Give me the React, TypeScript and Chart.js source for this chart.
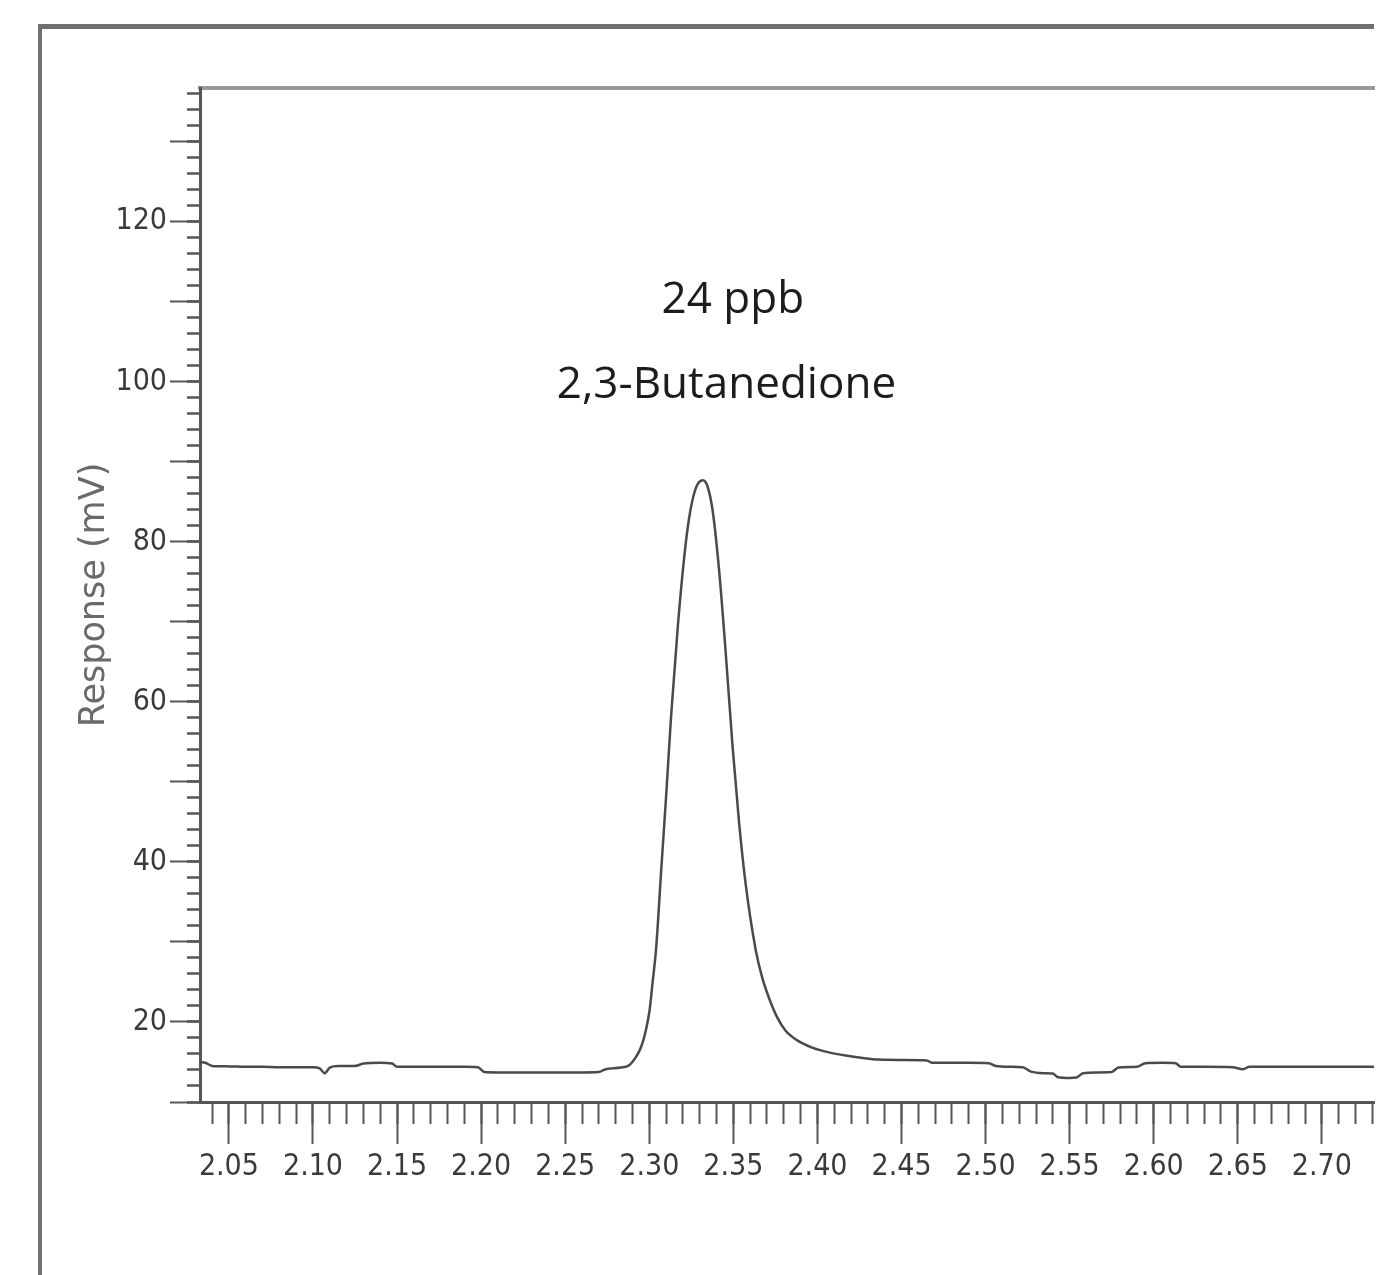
import React, { useEffect, useRef } from "react";
import { Chart, registerables } from "chart.js";

Chart.register(...registerables);

// ---- data ----
const retentionTime: number[] = [
  2.0328, 2.036, 2.04, 2.05, 2.06, 2.07, 2.08, 2.09, 2.1, 2.104, 2.107, 2.11, 2.115, 2.125, 2.13, 2.14,
  2.147, 2.15, 2.16, 2.17, 2.18, 2.19, 2.198, 2.202, 2.21, 2.22, 2.23, 2.24, 2.25, 2.26, 2.27, 2.274,
  2.283, 2.288, 2.292, 2.2952, 2.298, 2.3002, 2.302, 2.3041, 2.3071, 2.3101, 2.313, 2.317, 2.32, 2.323,
  2.326, 2.329, 2.3319, 2.3345, 2.3376, 2.3415, 2.3455, 2.3495, 2.3534, 2.3574, 2.3633, 2.3672, 2.3712,
  2.376, 2.3811, 2.388, 2.3969, 2.4068, 2.4168, 2.427, 2.4366, 2.45, 2.465, 2.468, 2.48, 2.49, 2.502,
  2.506, 2.515, 2.522, 2.527, 2.535, 2.54, 2.543, 2.55, 2.554, 2.558, 2.566, 2.575, 2.579, 2.59, 2.595,
  2.605, 2.613, 2.616, 2.63, 2.647, 2.653, 2.657, 2.67, 2.69, 2.71, 2.731,
];
const responseMv: number[] = [
  15.0, 14.9, 14.5, 14.45, 14.4, 14.4, 14.35, 14.35, 14.35, 14.2, 13.6, 14.3, 14.5, 14.5, 14.8, 14.9,
  14.8, 14.4, 14.4, 14.4, 14.4, 14.4, 14.35, 13.75, 13.7, 13.7, 13.7, 13.7, 13.7, 13.7, 13.75, 14.1,
  14.3, 14.6, 15.6, 16.9, 19.0, 21.5, 25.0, 29.3, 39.0, 48.5, 58.3, 69.5, 76.5, 82.0,
  85.5, 87.3, 87.7, 87.0, 84.0, 76.5, 66.0, 54.5, 44.9, 37.1, 29.0, 25.5, 23.0,
  20.6, 18.9, 17.7, 16.8, 16.2, 15.8, 15.5, 15.3, 15.25, 15.2, 14.9, 14.9, 14.9, 14.85,
  14.5, 14.4, 14.35, 13.8, 13.6, 13.55, 13.1, 13.0, 13.05, 13.6, 13.7, 13.75, 14.3, 14.4, 14.85,
  14.9, 14.85, 14.4, 14.4, 14.35, 14.1, 14.4, 14.4, 14.4, 14.4, 14.4,
];

// annotation text above the peak
const peakLabelText: string[] = ["24 ppb", "2,3-Butanedione"];
const peakLabelX: number[] = [2.3497, 2.3459];
const peakLabelY: number[] = [110.2, 99.5];

// axis ranges / tick steps
const xRange: number[] = [2.0328, 2.731];
const xTickSteps: number[] = [0.05, 0.01]; // major (labelled), minor
const yRange: number[] = [10, 136.7];
const yTickSteps: number[] = [10, 2]; // major/medium, minor
const yLabelStep = 20;
const yTitle = "Response (mV)";

const AXIS_COLOR = "#555555";
const TICK_FONT = '"DejaVu Sans Condensed", "DejaVu Sans", sans-serif';

const peakLabelPlugin = {
  id: "peakLabels",
  afterDatasetsDraw(chart: any) {
    const { ctx, scales } = chart;
    const xs = scales.x;
    const ys = scales.y;
    ctx.save();
    ctx.font = '44px "Open Sans", "Noto Sans", sans-serif';
    ctx.fillStyle = "#1c1c1c";
    ctx.textAlign = "center";
    ctx.textBaseline = "middle";
    peakLabelText.forEach((t, i) => {
      ctx.fillText(t, xs.getPixelForValue(peakLabelX[i]), ys.getPixelForValue(peakLabelY[i]));
    });
    ctx.restore();
  },
};

export default function App() {
  const canvasRef = useRef<HTMLCanvasElement | null>(null);

  useEffect(() => {
    document.body.style.margin = "0";
    const canvas = canvasRef.current;
    if (!canvas) return;
    const points = retentionTime.map((t, i) => ({ x: t, y: responseMv[i] }));

    const chart = new Chart(canvas, {
      type: "line",
      data: {
        datasets: [
          {
            data: points,
            borderColor: "#4a4a4a",
            borderWidth: 2.5,
            pointRadius: 0,
            cubicInterpolationMode: "monotone",
            fill: false,
            xAxisID: "x",
            yAxisID: "y",
          },
        ],
      },
      options: {
        responsive: false,
        animation: false,
        events: [],
        layout: { padding: { left: 0, top: 0, right: 25, bottom: 0 } },
        plugins: { legend: { display: false }, tooltip: { enabled: false }, title: { display: false } },
        scales: {
          x: {
            type: "linear",
            position: "bottom",
            weight: 10,
            min: xRange[0],
            max: xRange[1],
            afterFit: (s: any) => {
              s.height = 173;
            },
            border: { display: true, color: AXIS_COLOR, width: 3 },
            grid: { drawOnChartArea: false, drawTicks: true, tickLength: 42, tickWidth: 2, tickColor: AXIS_COLOR },
            ticks: {
              stepSize: xTickSteps[0],
              includeBounds: false,
              autoSkip: false,
              maxRotation: 0,
              padding: 5,
              color: "#3a3a3a",
              font: { family: TICK_FONT, size: 30 },
              callback: (v: any) => Number(v).toFixed(2),
            },
          },
          xMinor: {
            type: "linear",
            position: "bottom",
            weight: 0,
            min: xRange[0],
            max: xRange[1],
            afterFit: (s: any) => {
              s.height = 0;
            },
            border: { display: false },
            grid: { drawOnChartArea: false, drawTicks: true, tickLength: 22, tickWidth: 2, tickColor: AXIS_COLOR },
            ticks: { stepSize: xTickSteps[1], includeBounds: false, autoSkip: false, display: false },
          },
          xTop: {
            type: "linear",
            position: "top",
            min: xRange[0],
            max: xRange[1],
            afterFit: (s: any) => {
              s.height = 88;
            },
            border: { display: true, color: "#9a9a9a", width: 4 },
            grid: { display: false },
            ticks: { display: false },
          },
          y: {
            type: "linear",
            position: "left",
            weight: 10,
            min: yRange[0],
            max: yRange[1],
            afterFit: (s: any) => {
              s.width = 200;
            },
            border: { display: true, color: AXIS_COLOR, width: 3 },
            grid: { drawOnChartArea: false, drawTicks: true, tickLength: 30, tickWidth: 2, tickColor: AXIS_COLOR },
            title: {
              display: true,
              text: yTitle,
              color: "#6a6a6a",
              font: { family: '"DejaVu Sans", sans-serif', size: 35 },
              padding: { top: 74, bottom: 0 },
            },
            ticks: {
              stepSize: yTickSteps[0],
              includeBounds: false,
              autoSkip: false,
              padding: 3,
              color: "#3a3a3a",
              font: { family: TICK_FONT, size: 30 },
              callback: (v: any) => (Math.round(Number(v)) % yLabelStep === 0 ? String(Math.round(Number(v))) : ""),
            },
          },
          yMinor: {
            type: "linear",
            position: "left",
            weight: 0,
            min: yRange[0],
            max: yRange[1],
            afterFit: (s: any) => {
              s.width = 0;
            },
            border: { display: false },
            grid: { drawOnChartArea: false, drawTicks: true, tickLength: 13, tickWidth: 2.5, tickColor: AXIS_COLOR },
            ticks: { stepSize: yTickSteps[1], includeBounds: false, autoSkip: false, display: false },
          },
        },
      } as any,
      plugins: [peakLabelPlugin],
    });

    return () => {
      chart.destroy();
    };
  }, []);

  return (
    <div style={{ position: "relative", width: 1399, height: 1275, overflow: "hidden", background: "#ffffff" }}>
      <div
        style={{
          position: "absolute",
          left: 38,
          top: 24,
          width: 1374 - 38 - 4,
          height: 1275,
          borderLeft: "4px solid #707070",
          borderTop: "5px solid #707070",
        }}
      />
      <canvas ref={canvasRef} width={1399} height={1275} style={{ position: "absolute", left: 0, top: 0 }} />
    </div>
  );
}
